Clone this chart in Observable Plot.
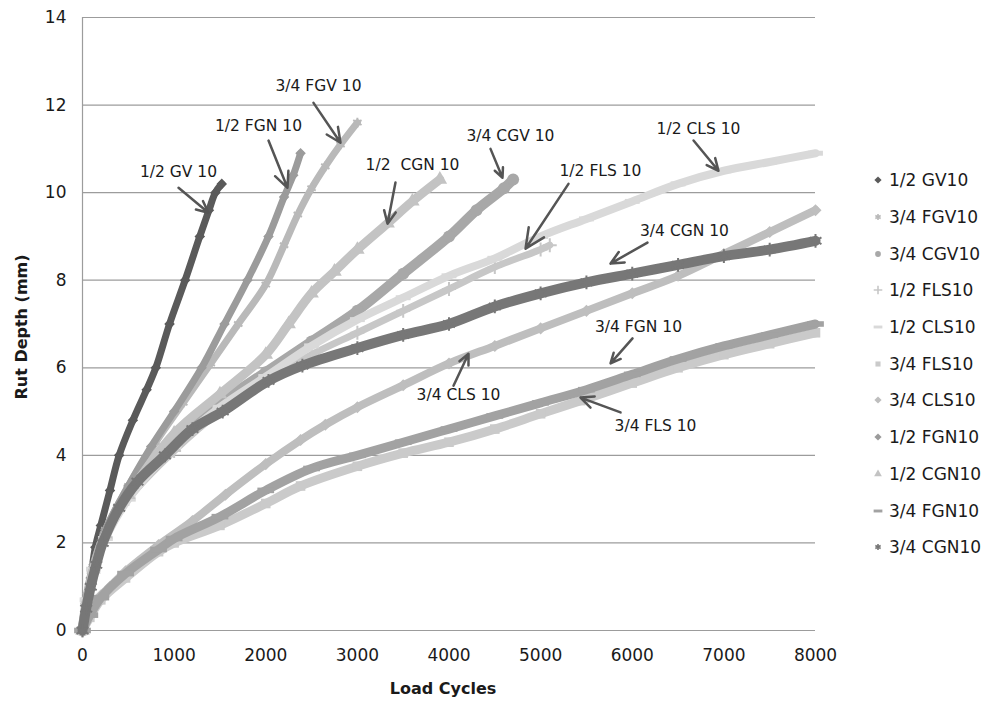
<!DOCTYPE html>
<html>
<head>
<meta charset="utf-8">
<script src="https://cdn.jsdelivr.net/npm/d3@7"></script>
<script src="https://cdn.jsdelivr.net/npm/@observablehq/plot@0.6"></script>
<style>
  html, body { margin: 0; padding: 0; background: #fff; }
  #wrap { position: relative; width: 992px; height: 702px; font-family: "DejaVu Sans", sans-serif; }
  #xtitle { position: absolute; left: 443px; top: 688px; transform: translate(-50%, -50%); font-weight: bold; font-size: 16px; color: #1a1a1a; white-space: nowrap; }
  #legend { position: absolute; left: 871px; top: 162px; }
  .row { height: 36.7px; display: flex; align-items: center; font-size: 17px; color: #1a1a1a; white-space: nowrap; }
  .row svg { width: 14px; height: 14px; margin-right: 4px; }
</style>
</head>
<body>
<div id="wrap">
  <div id="chart"></div>
  <div id="xtitle">Load Cycles</div>
  <div id="legend"></div>
</div>
<script>
// ---- data: [load cycles, rut depth (mm)] ----
const gv12 = [[0,0],[40,0.6],[90,1.2],[140,1.9],[200,2.4],[300,3.2],[400,4.0],[550,4.8],[700,5.5],[800,6.0],[950,7.0],[1120,8.0],[1280,9.0],[1380,9.6],[1450,10.0],[1520,10.2]];
const fgv34 = [[0,0],[50,0.8],[120,1.5],[250,2.3],[500,3.3],[800,4.3],[1100,5.2],[1400,6.1],[1700,7.0],[2000,7.9],[2200,8.8],[2350,9.5],[2500,10.1],[2650,10.6],[2816,11.1],[3000,11.6]];
const cgv34 = [[0,0],[50,0.7],[120,1.4],[250,2.2],[500,3.1],[1000,4.3],[1500,5.2],[2000,5.9],[2500,6.6],[3000,7.3],[3500,8.15],[4000,9.0],[4300,9.6],[4600,10.1],[4700,10.3]];
const fls12 = [[0,0],[50,0.7],[120,1.4],[250,2.1],[500,3.0],[1000,4.1],[1500,5.0],[2000,5.7],[2500,6.3],[3000,6.8],[3500,7.3],[4000,7.8],[4500,8.3],[5000,8.7],[5100,8.8]];
const cls12 = [[0,0],[50,0.7],[120,1.4],[250,2.1],[500,3.0],[1000,4.2],[1500,5.1],[2000,5.8],[2500,6.5],[3000,7.1],[3500,7.6],[4000,8.1],[4500,8.5],[5000,9.0],[5500,9.4],[6000,9.8],[6500,10.2],[7000,10.5],[7500,10.7],[8000,10.9]];
const fls34 = [[0,0],[80,0.3],[200,0.7],[470,1.2],[830,1.8],[1000,2.0],[1500,2.4],[2000,2.9],[2380,3.3],[3000,3.75],[3500,4.05],[4000,4.3],[4500,4.6],[5000,4.95],[5437,5.25],[6000,5.65],[6500,6.0],[7000,6.3],[7500,6.55],[8000,6.8]];
const cls34 = [[0,0],[80,0.4],[200,0.8],[300,1.0],[470,1.35],[830,1.95],[1200,2.5],[1560,3.1],[2000,3.8],[2380,4.35],[2650,4.7],[3000,5.1],[3500,5.6],[4000,6.1],[4500,6.5],[5000,6.9],[5500,7.3],[6000,7.7],[6500,8.1],[7000,8.6],[7500,9.1],[8000,9.6]];
const fgn12 = [[0,0],[50,0.8],[120,1.5],[250,2.3],[500,3.3],[750,4.2],[1000,5.0],[1300,6.0],[1550,7.0],[1800,8.0],[2030,9.0],[2200,9.9],[2300,10.4],[2380,10.9]];
const cgn12 = [[0,0],[50,0.7],[120,1.4],[250,2.2],[500,3.1],[1000,4.5],[1500,5.4],[2000,6.3],[2250,7.0],[2500,7.7],[2750,8.2],[3000,8.7],[3330,9.3],[3600,9.8],[3900,10.3]];
const fgn34 = [[0,0],[80,0.35],[200,0.75],[470,1.3],[830,1.85],[1000,2.1],[1500,2.6],[2000,3.2],[2500,3.7],[3000,4.0],[3500,4.3],[4000,4.6],[4500,4.9],[5000,5.2],[5500,5.5],[6000,5.85],[6500,6.2],[7000,6.5],[7500,6.75],[8000,7.0]];
const cgn34 = [[0,0],[40,0.5],[90,1.0],[150,1.5],[220,2.0],[400,2.8],[600,3.4],[900,4.0],[1200,4.6],[1530,5.0],[2030,5.7],[2400,6.05],[3000,6.45],[3500,6.75],[4000,7.0],[4500,7.4],[5000,7.7],[5500,7.95],[6000,8.15],[6500,8.35],[7000,8.55],[7500,8.7],[8000,8.9]];

const seriesNames = ["1/2 GV10","3/4 FGV10","3/4 CGV10","1/2 FLS10","1/2 CLS10","3/4 FLS10","3/4 CLS10","1/2 FGN10","1/2 CGN10","3/4 FGN10","3/4 CGN10"];
const seriesData = [gv12, fgv34, cgv34, fls12, cls12, fls34, cls34, fgn12, cgn12, fgn34, cgn34];
const seriesColors = ["#5a5a5a","#b9b9b9","#a8a8a8","#c7c7c7","#d9d9d9","#cacaca","#bebebe","#9b9b9b","#c3c3c3","#a2a2a2","#777777"];
const seriesMarkers = ["diamond","star","circle","plus","dash","square","diamond","diamond","triangle","dash","star"];

const yTicks = [0,2,4,6,8,10,12,14];
const xTicks = [0,1000,2000,3000,4000,5000,6000,7000,8000];

// annotations: label, text position, arrow start and end (data units)
const annLabels = ["1/2 GV 10","1/2 FGN 10","3/4 FGV 10","1/2  CGN 10","3/4 CGV 10","1/2 FLS 10","1/2 CLS 10","3/4 CGN 10","3/4 CLS 10","3/4 FGN 10","3/4 FLS 10"];
const annTextX = [1048,1921,2576,3602,4671,5653,6723,6570,4104,6068,6254];
const annTextY = [10.46,11.53,12.44,10.62,11.3,10.5,11.46,9.13,5.37,6.94,4.68];
const annFromX = [1048,2030,2521,3416,4453,5304,6669,6166,4049,6003,5872];
const annFromY = [10.11,11.19,12.05,10.23,11.0,10.2,11.19,8.86,5.59,6.67,4.98];
const annToX = [1375,2237,2816,3329,4584,4835,6941,5763,4213,5763,5435];
const annToY = [9.54,10.11,11.14,9.29,10.34,8.72,10.5,8.38,6.32,6.1,5.32];

// ---- symbols ----
const sym = {
  diamond: {draw(c, s){ const r = Math.sqrt(s/2); c.moveTo(0,-r); c.lineTo(r,0); c.lineTo(0,r); c.lineTo(-r,0); c.closePath(); }},
  dash: {draw(c, s){ const w = Math.sqrt(s)*0.75, h = Math.sqrt(s)*0.25; c.rect(-w,-h,2*w,2*h); }},
  square: {draw(c, s){ const r = Math.sqrt(s)/2; c.rect(-r,-r,2*r,2*r); }},
  circle: d3.symbolCircle,
  triangle: d3.symbolTriangle,
  plus: d3.symbolPlus,
  star: d3.symbolAsterisk
};
const strokedMarkers = new Set(["plus","star"]);

const table = seriesNames.map((name, i) => seriesData[i].map(([c, d]) => ({series: name, cycles: c, depth: d})));
const ann = annLabels.map((t, i) => ({t, tx: annTextX[i], ty: annTextY[i], x1: annFromX[i], y1: annFromY[i], x2: annToX[i], y2: annToY[i]}));

const bandWidth = [7, 7, 10, 7, 8, 9, 8, 7, 9, 9, 10];

const marks = [
  Plot.gridY(yTicks, {stroke: "#9c9c9c", strokeOpacity: 1, strokeWidth: 1.2}),
  Plot.ruleX([0], {stroke: "#9c9c9c", strokeWidth: 1.2})
];
seriesNames.forEach((name, i) => {
  const m = seriesMarkers[i];
  marks.push(Plot.line(table[i], {x: "cycles", y: "depth", stroke: seriesColors[i], strokeWidth: bandWidth[i], curve: "catmull-rom", strokeLinejoin: "round", strokeLinecap: "round"}));
  if (strokedMarkers.has(m)) {
    marks.push(Plot.dot(table[i], {x: "cycles", y: "depth", symbol: sym[m], stroke: seriesColors[i], strokeWidth: 2, r: bandWidth[i] * 0.65}));
  } else {
    marks.push(Plot.dot(table[i], {x: "cycles", y: "depth", symbol: sym[m], fill: seriesColors[i], r: bandWidth[i] * (m === "dash" ? 0.7 : 0.6)}));
  }
});
marks.push(Plot.arrow(ann, {x1: "x1", y1: "y1", x2: "x2", y2: "y2", stroke: "#555", strokeWidth: 2.5, headLength: 13, headAngle: 50}));
marks.push(Plot.text(ann, {x: "tx", y: "ty", text: "t", fontSize: 15.5, fill: "#1a1a1a", fontFamily: "DejaVu Sans"}));

const chart = Plot.plot({
  width: 992,
  height: 702,
  marginLeft: 82,
  marginRight: 177,
  marginTop: 17,
  marginBottom: 72,
  style: {fontFamily: "DejaVu Sans", fontSize: "17px", color: "#1a1a1a", background: "#fff"},
  x: {domain: [0, 8000], ticks: xTicks, tickSize: 0, tickPadding: 18, tickFormat: d => String(d), label: null},
  y: {domain: [0, 14], ticks: yTicks, tickSize: 0, tickPadding: 16, label: null},
  marks
});
// y-axis title as SVG text
d3.select(chart).append("text")
  .attr("transform", "translate(27,327) rotate(-90)")
  .attr("text-anchor", "middle")
  .attr("font-family", "DejaVu Sans")
  .attr("font-weight", "bold")
  .attr("font-size", 16)
  .attr("fill", "#1a1a1a")
  .text("Rut Depth (mm)");
document.getElementById("chart").appendChild(chart);

// ---- legend ----
const legend = document.getElementById("legend");
seriesNames.forEach((name, i) => {
  const row = document.createElement("div");
  row.className = "row";
  const m = seriesMarkers[i];
  const svg = d3.create("svg").attr("viewBox", "-7 -7 14 14");
  const s = m === "dash" ? 34 : 26;
  const p = svg.append("path").attr("d", d3.symbol(sym[m], s)());
  if (strokedMarkers.has(m)) p.attr("fill", "none").attr("stroke", seriesColors[i]).attr("stroke-width", 1.6);
  else p.attr("fill", seriesColors[i]);
  row.appendChild(svg.node());
  const span = document.createElement("span");
  span.textContent = name;
  row.appendChild(span);
  legend.appendChild(row);
});
</script>
</body>
</html>
